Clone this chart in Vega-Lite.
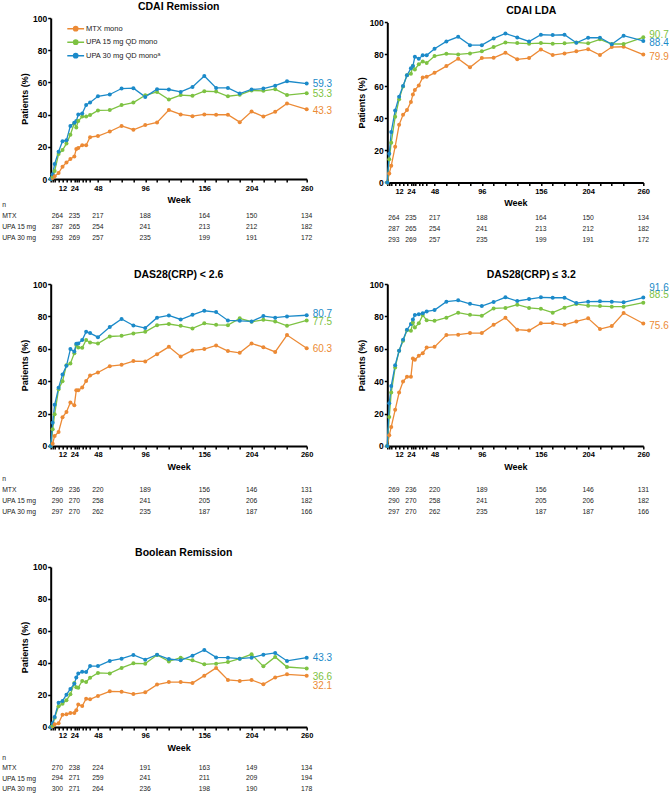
{
"$schema": "https://vega.github.io/schema/vega-lite/v6.json",
"padding": {"left": 1.7, "top": 1, "right": 0, "bottom": 0},
"config": {
  "font": "Liberation Sans",
  "view": {"stroke": null},
  "axis": {"domainColor": "#000", "domainWidth": 2, "tickColor": "#000", "tickWidth": 1.5, "tickSize": 3, "labelColor": "#000", "labelFontWeight": "bold", "labelFont": "Liberation Sans", "titleFont": "Liberation Sans", "titleFontWeight": "bold", "titleFontSize": 9, "titleColor": "#000", "grid": false},
  "axisX": {"labelFontSize": 7.5, "labelPadding": 2, "titlePadding": 4},
  "axisY": {"labelFontSize": 8.5, "labelPadding": 1, "titlePadding": 3},
  "title": {"font": "Liberation Sans", "fontSize": 10.5, "fontWeight": "bold", "color": "#000", "offset": 2},
  "text": {"font": "Liberation Sans"}
},
"datasets": {
  "p1": [
    {"w":0,"M":0,"U15":0,"U30":0},{"w":2,"M":0.6,"U15":1.5,"U30":3},{"w":4,"M":1.7,"U15":5,"U30":9.3},{"w":8,"M":3.7,"U15":15.5,"U30":17},{"w":12,"M":7.6,"U15":18,"U30":23.5},{"w":16,"M":10.3,"U15":22,"U30":24},{"w":20,"M":12.4,"U15":27.5,"U30":33},{"w":24,"M":14,"U15":34.7,"U30":35},{"w":26,"M":18.6,"U15":32,"U30":36},{"w":28,"M":19.2,"U15":36,"U30":40},{"w":32,"M":21,"U15":38.8,"U30":40.7},{"w":36,"M":21,"U15":38.8,"U30":46},{"w":40,"M":26,"U15":39.7,"U30":47.5},{"w":48,"M":26.7,"U15":42.6,"U30":51.4},{"w":60,"M":29.5,"U15":42.8,"U30":52.5},{"w":72,"M":33,"U15":45.9,"U30":56.2},{"w":84,"M":30.6,"U15":47.5,"U30":56.4},{"w":96,"M":33.5,"U15":52,"U30":51},{"w":108,"M":35.1,"U15":54.1,"U30":55.8},{"w":120,"M":42.8,"U15":49.4,"U30":55.6},{"w":132,"M":40.1,"U15":52.1,"U30":54.1},{"w":144,"M":39,"U15":51.7,"U30":57.2},{"w":156,"M":40.1,"U15":54.5,"U30":64},{"w":168,"M":39.9,"U15":54.3,"U30":56.6},{"w":180,"M":39.9,"U15":51.4,"U30":56.6},{"w":192,"M":35.3,"U15":52.3,"U30":53.1},{"w":204,"M":41.9,"U15":55,"U30":55.6},{"w":216,"M":38.8,"U15":54.8,"U30":56.2},{"w":228,"M":41.7,"U15":55.8,"U30":58},{"w":240,"M":46.9,"U15":52.1,"U30":60.7},{"w":260,"M":43.3,"U15":53.3,"U30":59.3}
  ],
  "p2": [
    {"w":0,"M":0,"U15":0,"U30":0},{"w":2,"M":5.6,"U15":14.4,"U30":17.9},{"w":4,"M":10.4,"U15":24.8,"U30":31.5},{"w":8,"M":22.3,"U15":41,"U30":45},{"w":12,"M":36,"U15":51.9,"U30":53.5},{"w":16,"M":42.3,"U15":60,"U30":60.2},{"w":20,"M":45.2,"U15":66.9,"U30":67},{"w":24,"M":50.2,"U15":67.9,"U30":71.3},{"w":26,"M":55,"U15":72.7,"U30":72.7},{"w":28,"M":57.7,"U15":70.6,"U30":78.5},{"w":32,"M":60.6,"U15":73.8,"U30":77.3},{"w":36,"M":65.6,"U15":75.6,"U30":79.4},{"w":40,"M":66,"U15":74.6,"U30":79.4},{"w":48,"M":68.5,"U15":79,"U30":83.5},{"w":60,"M":72.7,"U15":80.4,"U30":88.1},{"w":72,"M":77.3,"U15":80,"U30":91},{"w":84,"M":71.9,"U15":80.6,"U30":85.8},{"w":96,"M":77.7,"U15":81.9,"U30":85.8},{"w":108,"M":77.9,"U15":84.6,"U30":90},{"w":120,"M":81,"U15":87.5,"U30":93.1},{"w":132,"M":76.9,"U15":87.1,"U30":90.6},{"w":144,"M":77.7,"U15":86.7,"U30":88.1},{"w":156,"M":83.1,"U15":87.1,"U30":92.3},{"w":168,"M":79.6,"U15":86.7,"U30":92.1},{"w":180,"M":80.6,"U15":86.9,"U30":92.3},{"w":192,"M":81.9,"U15":87.5,"U30":87.3},{"w":204,"M":83.3,"U15":86.9,"U30":90.4},{"w":216,"M":79.6,"U15":89.4,"U30":90.4},{"w":228,"M":84.6,"U15":86.5,"U30":86.3},{"w":240,"M":84.8,"U15":86.5,"U30":91.7},{"w":260,"M":79.9,"U15":90.7,"U30":88.4}
  ],
  "p3": [
    {"w":0,"M":0,"U15":0,"U30":0},{"w":2,"M":1.4,"U15":10.3,"U30":14.4},{"w":4,"M":6.2,"U15":19.6,"U30":25.4},{"w":8,"M":8.7,"U15":35,"U30":35.9},{"w":12,"M":17.7,"U15":40,"U30":44.1},{"w":16,"M":21,"U15":49.9,"U30":49.5},{"w":20,"M":26.8,"U15":50.9,"U30":59.8},{"w":24,"M":25.2,"U15":57.3,"U30":58.4},{"w":26,"M":34.4,"U15":62.3,"U30":63.1},{"w":28,"M":34.4,"U15":60.8,"U30":63.3},{"w":32,"M":36.1,"U15":60.6,"U30":65.4},{"w":36,"M":40.2,"U15":65.4,"U30":70.5},{"w":40,"M":43.5,"U15":63.9,"U30":69.7},{"w":48,"M":45.4,"U15":63.3,"U30":67.2},{"w":60,"M":49.3,"U15":67.6,"U30":73.4},{"w":72,"M":50.1,"U15":68,"U30":78.4},{"w":84,"M":52.4,"U15":69.5,"U30":74.4},{"w":96,"M":52.2,"U15":70.5,"U30":72.8},{"w":108,"M":56.7,"U15":74.6,"U30":79.2},{"w":120,"M":61.2,"U15":75.3,"U30":80.6},{"w":132,"M":55.3,"U15":74.2,"U30":78.1},{"w":144,"M":59,"U15":72.6,"U30":81},{"w":156,"M":59.8,"U15":75.7,"U30":83.5},{"w":168,"M":62.1,"U15":74.8,"U30":82.7},{"w":180,"M":58.6,"U15":74.6,"U30":77.5},{"w":192,"M":57.5,"U15":78.8,"U30":77.3},{"w":204,"M":63.3,"U15":76.7,"U30":76.9},{"w":216,"M":61,"U15":77.9,"U30":80.2},{"w":228,"M":58.1,"U15":76.9,"U30":79.2},{"w":240,"M":68.5,"U15":74.2,"U30":80},{"w":260,"M":60.3,"U15":77.5,"U30":80.7}
  ],
  "p4": [
    {"w":0,"M":0,"U15":0,"U30":0},{"w":2,"M":6.6,"U15":17.9,"U30":26.4},{"w":4,"M":11.8,"U15":33,"U30":37.1},{"w":8,"M":22.3,"U15":48.5,"U30":49.9},{"w":12,"M":33,"U15":58.8,"U30":58.8},{"w":16,"M":39.8,"U15":64.9,"U30":65.6},{"w":20,"M":42.7,"U15":71.5,"U30":71.8},{"w":24,"M":42.7,"U15":71.1,"U30":75.3},{"w":26,"M":54,"U15":76.3,"U30":78.1},{"w":28,"M":53.2,"U15":73.2,"U30":80.8},{"w":32,"M":55.7,"U15":75.7,"U30":81.4},{"w":36,"M":57.3,"U15":80.8,"U30":81.9},{"w":40,"M":60.8,"U15":77.7,"U30":83.1},{"w":48,"M":61.2,"U15":77.3,"U30":83.9},{"w":60,"M":68.5,"U15":79.2,"U30":89.1},{"w":72,"M":68.7,"U15":82.3,"U30":89.9},{"w":84,"M":69.7,"U15":81,"U30":87.8},{"w":96,"M":69.7,"U15":80.4,"U30":86.4},{"w":108,"M":74.8,"U15":84.9,"U30":88.9},{"w":120,"M":79.2,"U15":85.2,"U30":91.8},{"w":132,"M":71.8,"U15":87.2,"U30":89.5},{"w":144,"M":71.3,"U15":85.2,"U30":90.7},{"w":156,"M":75.7,"U15":84.7,"U30":91.8},{"w":168,"M":75.9,"U15":82.3,"U30":91.5},{"w":180,"M":74.8,"U15":85.4,"U30":91.5},{"w":192,"M":76.9,"U15":87.6,"U30":88.2},{"w":204,"M":78.8,"U15":86.6,"U30":89.1},{"w":216,"M":72.2,"U15":86.4,"U30":89.3},{"w":228,"M":74,"U15":86,"U30":89.1},{"w":240,"M":82.1,"U15":86,"U30":88.7},{"w":260,"M":75.6,"U15":88.5,"U30":91.6}
  ],
  "p5": [
    {"w":0,"M":0,"U15":0,"U30":0},{"w":2,"M":0.4,"U15":1,"U30":2.3},{"w":4,"M":1.7,"U15":5.8,"U30":6.3},{"w":8,"M":2.3,"U15":12.9,"U30":15.2},{"w":12,"M":7.7,"U15":14.6,"U30":16.3},{"w":16,"M":7.9,"U15":16.7,"U30":20.2},{"w":20,"M":8.8,"U15":20.4,"U30":23.8},{"w":24,"M":8.8,"U15":27.5,"U30":27},{"w":26,"M":10.4,"U15":24.8,"U30":31},{"w":28,"M":14,"U15":24.6,"U30":33.5},{"w":32,"M":13.1,"U15":28.8,"U30":34.6},{"w":36,"M":17.7,"U15":28.1,"U30":34.4},{"w":40,"M":17.3,"U15":30.8,"U30":38.1},{"w":48,"M":19.4,"U15":33.8,"U30":38.1},{"w":60,"M":22.3,"U15":33.5,"U30":41.3},{"w":72,"M":22.1,"U15":36.9,"U30":42.7},{"w":84,"M":20.6,"U15":39.8,"U30":45},{"w":96,"M":21.7,"U15":39.6,"U30":42.1},{"w":108,"M":26.5,"U15":45,"U30":45.2},{"w":120,"M":28.1,"U15":41,"U30":42.5},{"w":132,"M":28.1,"U15":43.3,"U30":41.7},{"w":144,"M":27.5,"U15":41.7,"U30":44.6},{"w":156,"M":32.1,"U15":39.2,"U30":48.1},{"w":168,"M":36.9,"U15":39.6,"U30":43.5},{"w":180,"M":29.4,"U15":40.6,"U30":43.3},{"w":192,"M":28.8,"U15":42.7,"U30":42.7},{"w":204,"M":29.4,"U15":45.4,"U30":43.3},{"w":216,"M":26.7,"U15":37.9,"U30":45.2},{"w":228,"M":31,"U15":43.8,"U30":46.3},{"w":240,"M":32.9,"U15":37.5,"U30":41.3},{"w":260,"M":32.1,"U15":36.6,"U30":43.3}
  ],
  "n1": [
    {"w":0,"MTX":264,"UPA 15 mg":287,"UPA 30 mg":293},{"w":24,"MTX":235,"UPA 15 mg":265,"UPA 30 mg":269},{"w":48,"MTX":217,"UPA 15 mg":254,"UPA 30 mg":257},{"w":96,"MTX":188,"UPA 15 mg":241,"UPA 30 mg":235},{"w":156,"MTX":164,"UPA 15 mg":213,"UPA 30 mg":199},{"w":204,"MTX":150,"UPA 15 mg":212,"UPA 30 mg":191},{"w":260,"MTX":134,"UPA 15 mg":182,"UPA 30 mg":172}
  ],
  "n3": [
    {"w":0,"MTX":269,"UPA 15 mg":290,"UPA 30 mg":297},{"w":24,"MTX":236,"UPA 15 mg":270,"UPA 30 mg":270},{"w":48,"MTX":220,"UPA 15 mg":258,"UPA 30 mg":262},{"w":96,"MTX":189,"UPA 15 mg":241,"UPA 30 mg":235},{"w":156,"MTX":156,"UPA 15 mg":205,"UPA 30 mg":187},{"w":204,"MTX":146,"UPA 15 mg":206,"UPA 30 mg":187},{"w":260,"MTX":131,"UPA 15 mg":182,"UPA 30 mg":166}
  ],
  "n5": [
    {"w":0,"MTX":270,"UPA 15 mg":294,"UPA 30 mg":300},{"w":24,"MTX":238,"UPA 15 mg":271,"UPA 30 mg":271},{"w":48,"MTX":224,"UPA 15 mg":259,"UPA 30 mg":264},{"w":96,"MTX":191,"UPA 15 mg":241,"UPA 30 mg":236},{"w":156,"MTX":163,"UPA 15 mg":211,"UPA 30 mg":198},{"w":204,"MTX":149,"UPA 15 mg":209,"UPA 30 mg":190},{"w":260,"MTX":134,"UPA 15 mg":194,"UPA 30 mg":178}
  ]
},
"spacing": 24,
"vconcat": [
 {"spacing": 23.6, "hconcat": [
  {"spacing": 20, "bounds": "flush", "vconcat": [
    {"width": 256, "height": 161, "title": {"text": "CDAI Remission", "offset": 2}, "data": {"name": "p1"},
     "transform": [{"fold": ["M","U15","U30"], "as": ["s","v"]}],
     "encoding": {
       "x": {"field": "w", "type": "quantitative", "scale": {"domain": [0,260], "nice": false}, "axis": {"title": "Week", "values": [0,2,4,8,12,16,20,24,26,28,32,36,40,48,60,72,84,96,108,120,132,144,156,168,180,192,204,216,228,240,260], "labelExpr": "(datum.value == 12 || datum.value == 24 || datum.value == 48 || datum.value == 96 || datum.value == 156 || datum.value == 204 || datum.value == 260) ? datum.label : ''", "labelOverlap": false, "labelFlush": false}},
       "y": {"field": "v", "type": "quantitative", "scale": {"domain": [0,100], "nice": false}, "axis": {"title": "Patients (%)", "values": [0,20,40,60,80,100], "labelOverlap": false}},
       "color": {"field": "s", "type": "nominal", "scale": {"domain": ["M","U15","U30"], "range": ["#EC8A35","#7DC242","#1B8AC9"]},
          "legend": {"title": null, "orient": "none", "legendX": 18, "legendY": 3.7, "padding": 0, "labelExpr": "datum.label == 'M' ? 'MTX mono' : datum.label == 'U15' ? 'UPA 15 mg QD mono' : 'UPA 30 mg QD monoᵃ'", "symbolType": "M-1.4,0H1.4M-0.35,0A0.35,0.35,0,1,0,0.35,0A0.35,0.35,0,1,0,-0.35,0M-0.12,0A0.12,0.12,0,1,0,0.12,0A0.12,0.12,0,1,0,-0.12,0", "symbolSize": 144, "symbolStrokeWidth": 1.5, "labelFontSize": 7.5, "labelFont": "Liberation Sans", "labelColor": "#222", "rowPadding": 0.5, "labelOffset": 3.3}}
     },
     "layer": [
      {"mark": {"type": "line", "strokeWidth": 1.3, "point": {"filled": true, "size": 16}}},
      {"transform": [{"filter": "datum.w == 260 && datum.s == 'M'"}], "mark": {"type": "text", "align": "left", "dx": 6, "dy": 2, "fontSize": 10}, "encoding": {"text": {"field": "v", "type": "quantitative", "format": ".1f"}}},
      {"transform": [{"filter": "datum.w == 260 && datum.s == 'U15'"}], "mark": {"type": "text", "align": "left", "dx": 6, "dy": 1, "fontSize": 10}, "encoding": {"text": {"field": "v", "type": "quantitative", "format": ".1f"}}},
      {"transform": [{"filter": "datum.w == 260 && datum.s == 'U30'"}], "mark": {"type": "text", "align": "left", "dx": 6, "dy": 0, "fontSize": 10}, "encoding": {"text": {"field": "v", "type": "quantitative", "format": ".1f"}}}
     ]},
    {"width": 256, "height": 44, "data": {"name": "n1"},
     "transform": [{"fold": ["MTX","UPA 15 mg","UPA 30 mg"], "as": ["r","n"]}],
     "encoding": {
      "x": {"field": "w", "type": "quantitative", "scale": {"domain": [0,260], "nice": false}, "axis": null},
      "y": {"field": "r", "type": "nominal", "scale": {"type": "point", "domain": ["n","MTX","UPA 15 mg","UPA 30 mg"], "padding": 0.5}, "axis": {"title": null, "domain": false, "ticks": false, "tickSize": 0, "labelAlign": "left", "labelPadding": 49, "labelFontSize": 6.8, "labelFontWeight": "normal", "labelColor": "#222"}},
      "text": {"field": "n", "type": "quantitative"}
     },
     "layer": [
      {"transform": [{"filter": "datum.w == 0"}], "mark": {"type": "text", "align": "left", "dx": 1, "fontSize": 6.8, "color": "#222"}},
      {"transform": [{"filter": "datum.w > 0"}], "mark": {"type": "text", "align": "center", "fontSize": 6.8, "color": "#222"}}
     ]}
  ]},
  {"spacing": 18, "bounds": "flush", "vconcat": [
    {"width": 256, "height": 164.4, "title": {"text": "CDAI LDA", "dx": 16, "offset": 2}, "data": {"name": "p2"},
     "transform": [{"fold": ["M","U15","U30"], "as": ["s","v"]}],
     "encoding": {
       "x": {"field": "w", "type": "quantitative", "scale": {"domain": [0,260], "nice": false}, "axis": {"title": "Week", "values": [0,2,4,8,12,16,20,24,26,28,32,36,40,48,60,72,84,96,108,120,132,144,156,168,180,192,204,216,228,240,260], "labelExpr": "(datum.value == 12 || datum.value == 24 || datum.value == 48 || datum.value == 96 || datum.value == 156 || datum.value == 204 || datum.value == 260) ? datum.label : ''", "labelOverlap": false, "labelFlush": false}},
       "y": {"field": "v", "type": "quantitative", "scale": {"domain": [0,100], "nice": false, "range": [164.4, 4.4]}, "axis": {"title": "Patients (%)", "values": [0,20,40,60,80,100], "labelOverlap": false}},
       "color": {"field": "s", "type": "nominal", "scale": {"domain": ["M","U15","U30"], "range": ["#EC8A35","#7DC242","#1B8AC9"]}, "legend": null}
     },
     "layer": [
      {"mark": {"type": "line", "strokeWidth": 1.3, "point": {"filled": true, "size": 16}}},
      {"transform": [{"filter": "datum.w == 260 && datum.s == 'M'"}], "mark": {"type": "text", "align": "left", "dx": 6, "dy": 2, "fontSize": 10}, "encoding": {"text": {"field": "v", "type": "quantitative", "format": ".1f"}}},
      {"transform": [{"filter": "datum.w == 260 && datum.s == 'U15'"}], "mark": {"type": "text", "align": "left", "dx": 6, "dy": -2, "fontSize": 10}, "encoding": {"text": {"field": "v", "type": "quantitative", "format": ".1f"}}},
      {"transform": [{"filter": "datum.w == 260 && datum.s == 'U30'"}], "mark": {"type": "text", "align": "left", "dx": 6, "dy": 2.5, "fontSize": 10}, "encoding": {"text": {"field": "v", "type": "quantitative", "format": ".1f"}}}
     ]},
    {"width": 256, "height": 44, "data": {"name": "n1"},
     "transform": [{"fold": ["MTX","UPA 15 mg","UPA 30 mg"], "as": ["r","n"]}],
     "encoding": {
      "x": {"field": "w", "type": "quantitative", "scale": {"domain": [0,260], "nice": false}, "axis": null},
      "y": {"field": "r", "type": "nominal", "scale": {"type": "point", "domain": ["n","MTX","UPA 15 mg","UPA 30 mg"], "padding": 0.5}, "axis": null},
      "text": {"field": "n", "type": "quantitative"}
     },
     "layer": [
      {"transform": [{"filter": "datum.w == 0"}], "mark": {"type": "text", "align": "left", "dx": 1, "fontSize": 6.8, "color": "#222"}},
      {"transform": [{"filter": "datum.w > 0"}], "mark": {"type": "text", "align": "center", "fontSize": 6.8, "color": "#222"}}
     ]}
  ]}
 ]},
 {"spacing": 30, "vconcat": [
  {"spacing": 23.6, "hconcat": [
   {"spacing": 27.5, "bounds": "flush", "vconcat": [
    {"width": 256, "height": 162, "title": {"text": "DAS28(CRP) < 2.6", "offset": 0}, "data": {"name": "p3"},
     "transform": [{"fold": ["M","U15","U30"], "as": ["s","v"]}],
     "encoding": {
       "x": {"field": "w", "type": "quantitative", "scale": {"domain": [0,260], "nice": false}, "axis": {"title": "Week", "values": [0,2,4,8,12,16,20,24,26,28,32,36,40,48,60,72,84,96,108,120,132,144,156,168,180,192,204,216,228,240,260], "labelExpr": "(datum.value == 12 || datum.value == 24 || datum.value == 48 || datum.value == 96 || datum.value == 156 || datum.value == 204 || datum.value == 260) ? datum.label : ''", "labelOverlap": false, "labelFlush": false}},
       "y": {"field": "v", "type": "quantitative", "scale": {"domain": [0,100], "nice": false}, "axis": {"title": "Patients (%)", "values": [0,20,40,60,80,100], "labelOverlap": false}},
       "color": {"field": "s", "type": "nominal", "scale": {"domain": ["M","U15","U30"], "range": ["#EC8A35","#7DC242","#1B8AC9"]}, "legend": null}
     },
     "layer": [
      {"mark": {"type": "line", "strokeWidth": 1.3, "point": {"filled": true, "size": 16}}},
      {"transform": [{"filter": "datum.w == 260 && datum.s == 'M'"}], "mark": {"type": "text", "align": "left", "dx": 6, "dy": 1, "fontSize": 10}, "encoding": {"text": {"field": "v", "type": "quantitative", "format": ".1f"}}},
      {"transform": [{"filter": "datum.w == 260 && datum.s == 'U15'"}], "mark": {"type": "text", "align": "left", "dx": 6, "dy": 1.5, "fontSize": 10}, "encoding": {"text": {"field": "v", "type": "quantitative", "format": ".1f"}}},
      {"transform": [{"filter": "datum.w == 260 && datum.s == 'U30'"}], "mark": {"type": "text", "align": "left", "dx": 6, "dy": -1.5, "fontSize": 10}, "encoding": {"text": {"field": "v", "type": "quantitative", "format": ".1f"}}}
     ]},
    {"width": 256, "height": 44, "data": {"name": "n3"},
     "transform": [{"fold": ["MTX","UPA 15 mg","UPA 30 mg"], "as": ["r","n"]}],
     "encoding": {
      "x": {"field": "w", "type": "quantitative", "scale": {"domain": [0,260], "nice": false}, "axis": null},
      "y": {"field": "r", "type": "nominal", "scale": {"type": "point", "domain": ["n","MTX","UPA 15 mg","UPA 30 mg"], "padding": 0.5}, "axis": {"title": null, "domain": false, "ticks": false, "tickSize": 0, "labelAlign": "left", "labelPadding": 49, "labelFontSize": 6.8, "labelFontWeight": "normal", "labelColor": "#222"}},
      "text": {"field": "n", "type": "quantitative"}
     },
     "layer": [
      {"transform": [{"filter": "datum.w == 0"}], "mark": {"type": "text", "align": "left", "dx": 1, "fontSize": 6.8, "color": "#222"}},
      {"transform": [{"filter": "datum.w > 0"}], "mark": {"type": "text", "align": "center", "fontSize": 6.8, "color": "#222"}}
     ]}
   ]},
   {"spacing": 27.5, "bounds": "flush", "vconcat": [
    {"width": 256, "height": 162, "title": {"text": "DAS28(CRP) ≤ 3.2", "dx": 16, "offset": 0}, "data": {"name": "p4"},
     "transform": [{"fold": ["M","U15","U30"], "as": ["s","v"]}],
     "encoding": {
       "x": {"field": "w", "type": "quantitative", "scale": {"domain": [0,260], "nice": false}, "axis": {"title": "Week", "values": [0,2,4,8,12,16,20,24,26,28,32,36,40,48,60,72,84,96,108,120,132,144,156,168,180,192,204,216,228,240,260], "labelExpr": "(datum.value == 12 || datum.value == 24 || datum.value == 48 || datum.value == 96 || datum.value == 156 || datum.value == 204 || datum.value == 260) ? datum.label : ''", "labelOverlap": false, "labelFlush": false}},
       "y": {"field": "v", "type": "quantitative", "scale": {"domain": [0,100], "nice": false}, "axis": {"title": "Patients (%)", "values": [0,20,40,60,80,100], "labelOverlap": false}},
       "color": {"field": "s", "type": "nominal", "scale": {"domain": ["M","U15","U30"], "range": ["#EC8A35","#7DC242","#1B8AC9"]}, "legend": null}
     },
     "layer": [
      {"mark": {"type": "line", "strokeWidth": 1.3, "point": {"filled": true, "size": 16}}},
      {"transform": [{"filter": "datum.w == 260 && datum.s == 'M'"}], "mark": {"type": "text", "align": "left", "dx": 6, "dy": 2, "fontSize": 10}, "encoding": {"text": {"field": "v", "type": "quantitative", "format": ".1f"}}},
      {"transform": [{"filter": "datum.w == 260 && datum.s == 'U15'"}], "mark": {"type": "text", "align": "left", "dx": 6, "dy": -7.5, "fontSize": 10}, "encoding": {"text": {"field": "v", "type": "quantitative", "format": ".1f"}}},
      {"transform": [{"filter": "datum.w == 260 && datum.s == 'U30'"}], "mark": {"type": "text", "align": "left", "dx": 6, "dy": -10, "fontSize": 10}, "encoding": {"text": {"field": "v", "type": "quantitative", "format": ".1f"}}}
     ]},
    {"width": 256, "height": 44, "data": {"name": "n3"},
     "transform": [{"fold": ["MTX","UPA 15 mg","UPA 30 mg"], "as": ["r","n"]}],
     "encoding": {
      "x": {"field": "w", "type": "quantitative", "scale": {"domain": [0,260], "nice": false}, "axis": null},
      "y": {"field": "r", "type": "nominal", "scale": {"type": "point", "domain": ["n","MTX","UPA 15 mg","UPA 30 mg"], "padding": 0.5}, "axis": null},
      "text": {"field": "n", "type": "quantitative"}
     },
     "layer": [
      {"transform": [{"filter": "datum.w == 0"}], "mark": {"type": "text", "align": "left", "dx": 1, "fontSize": 6.8, "color": "#222"}},
      {"transform": [{"filter": "datum.w > 0"}], "mark": {"type": "text", "align": "center", "fontSize": 6.8, "color": "#222"}}
     ]}
   ]}
  ]},
  {"spacing": 25, "bounds": "flush", "vconcat": [
    {"width": 256, "height": 160, "title": {"text": "Boolean Remission", "dx": 5, "offset": 4}, "data": {"name": "p5"},
     "transform": [{"fold": ["M","U15","U30"], "as": ["s","v"]}],
     "encoding": {
       "x": {"field": "w", "type": "quantitative", "scale": {"domain": [0,260], "nice": false}, "axis": {"title": "Week", "values": [0,2,4,8,12,16,20,24,26,28,32,36,40,48,60,72,84,96,108,120,132,144,156,168,180,192,204,216,228,240,260], "labelExpr": "(datum.value == 12 || datum.value == 24 || datum.value == 48 || datum.value == 96 || datum.value == 156 || datum.value == 204 || datum.value == 260) ? datum.label : ''", "labelOverlap": false, "labelFlush": false}},
       "y": {"field": "v", "type": "quantitative", "scale": {"domain": [0,100], "nice": false}, "axis": {"title": "Patients (%)", "values": [0,20,40,60,80,100], "labelOverlap": false}},
       "color": {"field": "s", "type": "nominal", "scale": {"domain": ["M","U15","U30"], "range": ["#EC8A35","#7DC242","#1B8AC9"]}, "legend": null}
     },
     "layer": [
      {"mark": {"type": "line", "strokeWidth": 1.3, "point": {"filled": true, "size": 16}}},
      {"transform": [{"filter": "datum.w == 260 && datum.s == 'M'"}], "mark": {"type": "text", "align": "left", "dx": 6, "dy": 10, "fontSize": 10}, "encoding": {"text": {"field": "v", "type": "quantitative", "format": ".1f"}}},
      {"transform": [{"filter": "datum.w == 260 && datum.s == 'U15'"}], "mark": {"type": "text", "align": "left", "dx": 6, "dy": 9, "fontSize": 10}, "encoding": {"text": {"field": "v", "type": "quantitative", "format": ".1f"}}},
      {"transform": [{"filter": "datum.w == 260 && datum.s == 'U30'"}], "mark": {"type": "text", "align": "left", "dx": 6, "dy": 0, "fontSize": 10}, "encoding": {"text": {"field": "v", "type": "quantitative", "format": ".1f"}}}
     ]},
    {"width": 256, "height": 42, "data": {"name": "n5"},
     "transform": [{"fold": ["MTX","UPA 15 mg","UPA 30 mg"], "as": ["r","n"]}],
     "encoding": {
      "x": {"field": "w", "type": "quantitative", "scale": {"domain": [0,260], "nice": false}, "axis": null},
      "y": {"field": "r", "type": "nominal", "scale": {"type": "point", "domain": ["n","MTX","UPA 15 mg","UPA 30 mg"], "padding": 0.5}, "axis": {"title": null, "domain": false, "ticks": false, "tickSize": 0, "labelAlign": "left", "labelPadding": 49, "labelFontSize": 6.8, "labelFontWeight": "normal", "labelColor": "#222"}},
      "text": {"field": "n", "type": "quantitative"}
     },
     "layer": [
      {"transform": [{"filter": "datum.w == 0"}], "mark": {"type": "text", "align": "left", "dx": 1, "fontSize": 6.8, "color": "#222"}},
      {"transform": [{"filter": "datum.w > 0"}], "mark": {"type": "text", "align": "center", "fontSize": 6.8, "color": "#222"}}
     ]}
  ]}
 ]}
]
}
